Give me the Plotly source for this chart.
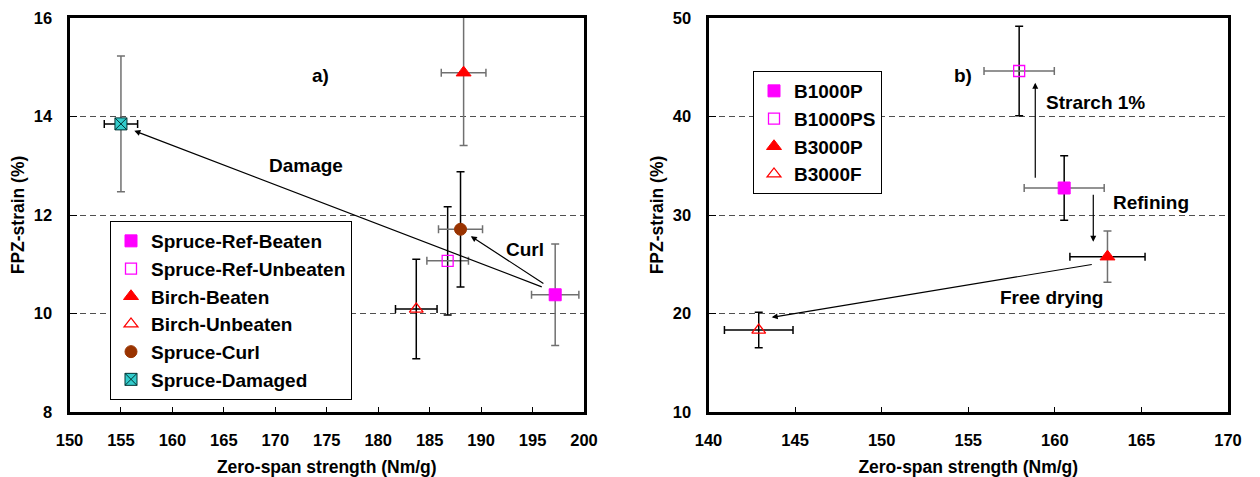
import plotly.graph_objects as go

# ---------------- data ----------------
left_names = ["Spruce-Ref-Beaten", "Spruce-Ref-Unbeaten", "Birch-Beaten",
              "Birch-Unbeaten", "Spruce-Curl", "Spruce-Damaged"]
left_x = [197.2, 186.75, 188.3, 183.7, 188.0, 155.0]
left_y = [10.38, 11.07, 14.89, 10.09, 11.71, 13.85]
left_xerr = [2.3, 2.02, 2.17, 2.02, 2.14, 1.62]
left_yerr = [1.03, 1.1, 1.48, 1.01, 1.17, 1.38]

right_names = ["B1000P", "B1000PS", "B3000P", "B3000F"]
right_x = [160.54, 157.94, 163.04, 142.9]
right_y = [32.74, 44.62, 25.77, 18.32]
right_xerr = [2.31, 2.03, 2.17, 1.98]
right_yerr = [3.27, 4.54, 2.6, 1.8]

left_xticks = [150, 155, 160, 165, 170, 175, 180, 185, 190, 195, 200]
left_yticks = [8, 10, 12, 14, 16]
right_xticks = [140, 145, 150, 155, 160, 165, 170]
right_yticks = [10, 20, 30, 40, 50]

# arrows: (tail_x, tail_y, head_x, head_y)
left_arrows = [(196.04, 10.53, 156.3, 13.71),   # Damage
               (196.2, 10.59, 189.0, 11.57)]    # Curl
right_arrows = [(158.87, 33.62, 158.87, 43.43),  # Starch
                (162.22, 32.2, 162.22, 27.29),   # Refining
                (162.22, 25.0, 143.65, 19.61)]   # Free drying

left_labels = [("a)", 174.4, 14.84), ("Damage", 173.0, 13.0), ("Curl", 194.27, 11.3)]
right_labels = [("b)", 154.71, 44.2), ("Strarch 1%", 162.37, 41.4),
                ("Refining", 165.55, 31.29), ("Free drying", 159.78, 21.6)]

# ---------------- styles ----------------
FONT = "Liberation Sans, Arial, sans-serif"
GRAY = "#707070"
left_styles = [
    dict(symbol="square", color="#FF00FF", line=dict(color="#FF00FF", width=1), size=12),
    dict(symbol="square-open", color="#FF00FF", line=dict(color="#FF00FF", width=1.3), size=11),
    dict(symbol="triangle-up", color="#FF0000", line=dict(color="#FF0000", width=1), size=13),
    dict(symbol="triangle-up-open", color="#FF0000", line=dict(color="#FF0000", width=1.3), size=12),
    dict(symbol="circle", color="#993300", line=dict(color="#993300", width=1), size=12),
    dict(symbol="square-x", color="#33CCCC", line=dict(color="#003333", width=1), size=12),
]
left_errc = [(GRAY, GRAY), (GRAY, "black"), (GRAY, GRAY), ("black", "black"),
             (GRAY, "black"), ("black", GRAY)]
right_styles = [
    dict(symbol="square", color="#FF00FF", line=dict(color="#FF00FF", width=1), size=12),
    dict(symbol="square-open", color="#FF00FF", line=dict(color="#FF00FF", width=1.3), size=11),
    dict(symbol="triangle-up", color="#FF0000", line=dict(color="#FF0000", width=1), size=13),
    dict(symbol="triangle-up-open", color="#FF0000", line=dict(color="#FF0000", width=1.3), size=12),
]
right_errc = [(GRAY, "black"), (GRAY, "black"), ("black", GRAY), ("black", "black")]

fig = go.Figure()

for i, n in enumerate(left_names):
    fig.add_trace(go.Scatter(
        x=[left_x[i]], y=[left_y[i]], mode="markers", name=n,
        marker=left_styles[i], xaxis="x", yaxis="y", legend="legend",
        error_x=dict(type="data", array=[left_xerr[i]], color=left_errc[i][0], thickness=1.5, width=4),
        error_y=dict(type="data", array=[left_yerr[i]], color=left_errc[i][1], thickness=1.5, width=4),
    ))
for i, n in enumerate(right_names):
    fig.add_trace(go.Scatter(
        x=[right_x[i]], y=[right_y[i]], mode="markers", name=n,
        marker=right_styles[i], xaxis="x2", yaxis="y2", legend="legend2",
        error_x=dict(type="data", array=[right_xerr[i]], color=right_errc[i][0], thickness=1.5, width=4),
        error_y=dict(type="data", array=[right_yerr[i]], color=right_errc[i][1], thickness=1.5, width=4),
    ))

annotations = []
for (tx, ty, hx, hy) in left_arrows:
    annotations.append(dict(x=hx, y=hy, ax=tx, ay=ty, xref="x", yref="y", axref="x", ayref="y",
                            text="", showarrow=True, arrowhead=2, arrowsize=1, arrowwidth=1.2,
                            arrowcolor="black"))
for (tx, ty, hx, hy) in right_arrows:
    annotations.append(dict(x=hx, y=hy, ax=tx, ay=ty, xref="x2", yref="y2", axref="x2", ayref="y2",
                            text="", showarrow=True, arrowhead=2, arrowsize=1, arrowwidth=1.2,
                            arrowcolor="black"))
for (t, x, y) in left_labels:
    annotations.append(dict(x=x, y=y, xref="x", yref="y", text="<b>%s</b>" % t, showarrow=False,
                            font=dict(family=FONT, size=19, color="black")))
for (t, x, y) in right_labels:
    annotations.append(dict(x=x, y=y, xref="x2", yref="y2", text="<b>%s</b>" % t, showarrow=False,
                            font=dict(family=FONT, size=19, color="black")))

W, H = 1260, 477
ydom = [(H - 412) / H, (H - 18) / H]


def xaxis(rng, ticks, dom):
    return dict(domain=dom, range=rng, tickvals=ticks, ticktext=[str(t) for t in ticks],
                showgrid=False, zeroline=False, showline=True, mirror=True, linewidth=3,
                linecolor="black", ticks="inside", ticklen=5, tickwidth=1, tickcolor="black",
                ticklabelstandoff=11,
                tickfont=dict(family=FONT, size=16.5, color="black", weight="bold"),
                title=dict(text="<b>Zero-span strength (Nm/g)</b>", standoff=13,
                           font=dict(family=FONT, size=17.5, color="black")),
                automargin=False)


def yaxis(rng, ticks, anchor):
    return dict(domain=ydom, range=rng, tickvals=ticks, ticktext=[str(t) for t in ticks],
                anchor=anchor, showgrid=True, gridcolor="#505050", gridwidth=1, griddash="6px,4px",
                zeroline=False, showline=True, mirror=True, linewidth=3, linecolor="black",
                ticks="inside", ticklen=7, tickwidth=1, tickcolor="black",
                ticklabelstandoff=11,
                tickfont=dict(family=FONT, size=16.5, color="black", weight="bold"),
                title=dict(text="<b>FPZ-strain (%)</b>", standoff=5,
                           font=dict(family=FONT, size=17.5, color="black")),
                automargin=False)


legend_common = dict(bgcolor="white", bordercolor="black", borderwidth=1,
                     font=dict(family=FONT, size=19, color="black", weight="bold"),
                     xanchor="left", yanchor="top", itemwidth=30, tracegroupgap=0)

fig.update_layout(
    width=W, height=H,
    margin=dict(l=0, r=0, t=0, b=0),
    paper_bgcolor="white", plot_bgcolor="white",
    xaxis=xaxis([150, 200], left_xticks, [69.5 / W, 584 / W]),
    yaxis=yaxis([8, 16], left_yticks, "x"),
    xaxis2=dict(xaxis([140, 170], right_xticks, [708.5 / W, 1228 / W]), anchor="y2"),
    yaxis2=yaxis([10, 50], right_yticks, "x2"),
    legend=dict(legend_common, x=110 / W, y=1 - 221 / H),
    legend2=dict(legend_common, x=753 / W, y=1 - 71 / H),
    annotations=annotations,
    showlegend=True,
)
fig.layout.xaxis.anchor = "y"

fig.write_html("out.html", config={"displayModeBar": False},
               post_script="document.body.style.margin='0px';document.body.style.overflow='hidden';")
